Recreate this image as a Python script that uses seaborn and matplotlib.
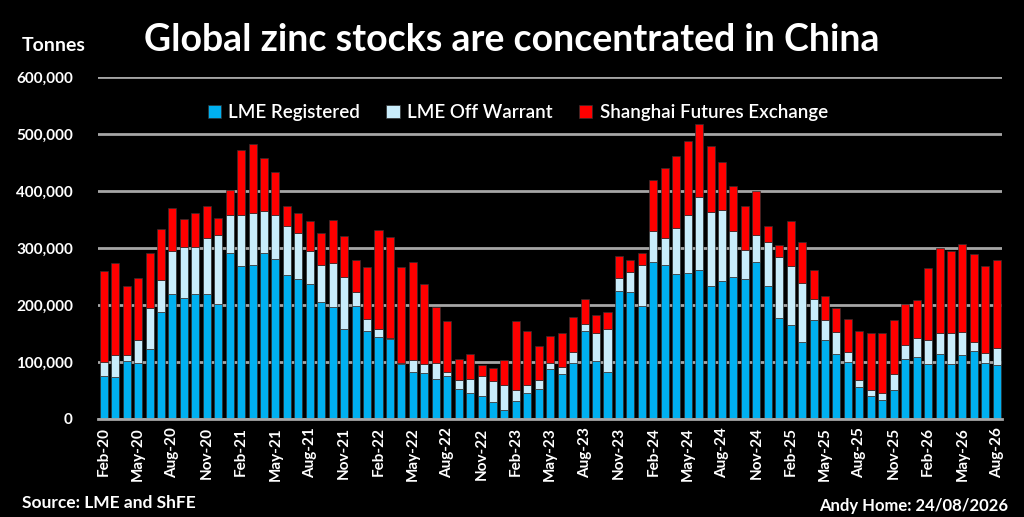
import matplotlib
matplotlib.use('Agg')

import numpy as np
import pandas as pd
import seaborn as sns
from matplotlib import pyplot as plt

months = pd.date_range('2020-02-01', '2026-08-01', freq='MS').strftime('%b-%y').tolist()

lme_registered = [75, 73, 101, 98, 122, 188, 220, 212, 219, 220, 202,
                  292, 269, 270, 291, 281, 253, 245, 236, 205, 196, 157, 198,
                  154, 144, 141, 97, 83, 81, 70, 76, 52, 45, 40, 30,
                  16, 32, 45, 53, 87, 79, 98, 154, 102, 82, 224, 222,
                  198, 276, 270, 255, 256, 261, 234, 242, 249, 246, 276, 233,
                  178, 164, 135, 173, 138, 114, 100, 56, 41, 34, 51, 106,
                  108, 97, 114, 96, 113, 120, 99, 94]
lme_total = [100, 113, 113, 139, 195, 244, 295, 302, 302, 317, 322,
             357, 357, 362, 365, 358, 338, 326, 295, 271, 274, 249, 222,
             175, 157, 142, 98, 104, 97, 99, 83, 69, 70, 75, 67,
             59, 51, 59, 69, 98, 92, 118, 167, 151, 157, 247, 258,
             270, 330, 318, 335, 357, 390, 363, 367, 329, 297, 323, 310,
             285, 269, 238, 211, 174, 152, 117, 68, 51, 45, 79, 130,
             142, 139, 151, 151, 153, 135, 116, 124]
grand_total = [260, 273, 234, 247, 292, 333, 370, 351, 362, 373, 352,
               402, 472, 482, 458, 433, 374, 362, 348, 326, 349, 321, 279,
               267, 331, 319, 267, 275, 237, 196, 172, 106, 114, 95, 89,
               103, 172, 155, 128, 146, 151, 179, 211, 183, 188, 286, 279,
               292, 419, 441, 462, 487, 518, 479, 451, 409, 374, 400, 339,
               306, 348, 310, 261, 215, 195, 176, 155, 150, 150, 174, 201,
               209, 264, 300, 294, 307, 290, 268, 279]

lme_registered = np.array(lme_registered) * 1000
lme_off = np.array(lme_total) * 1000 - lme_registered
shfe = np.array(grand_total) * 1000 - lme_registered - lme_off

df = pd.DataFrame({'month': months, 'reg': lme_registered, 'off': lme_off, 'shfe': shfe})

plt.rcParams['font.family'] = ['Lato', 'DejaVu Sans']
fig = plt.figure(figsize=(10.24, 5.17), dpi=100, facecolor='black')
ax = fig.add_axes([0.0957, 0.1896, 0.8833, 0.6615])
ax.set_facecolor('black')

blue = '#00B0F0'
light = '#C9EDFB'
red = '#FF0000'

sns.barplot(data=df, x='month', y='reg', color=blue, width=0.7, saturation=1,
            linewidth=0.5, edgecolor='#303030', label='LME Registered', ax=ax)
sns.barplot(data=df, x='month', y='off', bottom=df['reg'], color=light, width=0.7,
            saturation=1, linewidth=0.5, edgecolor='#303030', label='LME Off Warrant', ax=ax)
sns.barplot(data=df, x='month', y='shfe', bottom=df['reg'] + df['off'], color=red,
            width=0.7, saturation=1, linewidth=0.5, edgecolor='#303030',
            label='Shanghai Futures Exchange', ax=ax)

ax.set_xlim(-0.5, len(months) - 0.5)
ax.set_ylim(0, 600000)
ax.set_yticks(np.arange(0, 600001, 100000))
ax.set_yticklabels([f'{v:,}' for v in range(0, 600001, 100000)])
ax.set_xticks(range(0, len(months), 3))
ax.set_xticklabels(months[::3], rotation=90)
ax.set_xlabel('')
ax.set_ylabel('')
ax.yaxis.grid(True, color='#A6A6A6', linewidth=2)
ax.set_axisbelow(True)
for s in ['top', 'right', 'left']:
    ax.spines[s].set_visible(False)
ax.spines['bottom'].set_color('#A6A6A6')
ax.spines['bottom'].set_linewidth(2)
ax.tick_params(axis='both', length=0, colors='white', labelsize=11)
ax.tick_params(axis='y', pad=18)
ax.tick_params(axis='x', pad=6)
for lab in ax.get_xticklabels() + ax.get_yticklabels():
    lab.set_fontweight('bold')

leg = ax.legend(loc='upper center', bbox_to_anchor=(0.464, 0.97), ncol=3, frameon=False,
                handlelength=0.7, handleheight=0.7, handletextpad=0.4, columnspacing=1.4,
                fontsize=13.5)
for t in leg.get_texts():
    t.set_color('white')
    t.set_fontweight('semibold')

fig.text(0.5, 0.922, 'Global zinc stocks are concentrated in China', ha='center', va='center',
         color='white', fontsize=27, fontweight='bold')
fig.text(0.021, 0.912, 'Tonnes', ha='left', va='center', color='white', fontsize=14,
         fontweight='bold')
fig.text(0.021, 0.027, 'Source: LME and ShFE', ha='left', va='center', color='white',
         fontsize=12.5, fontweight='bold')
fig.text(0.984, 0.022, 'Andy Home: 24/08/2026', ha='right', va='center', color='white',
         fontsize=12, fontweight='bold')

fig.savefig('out.png', dpi=100, facecolor='black')
